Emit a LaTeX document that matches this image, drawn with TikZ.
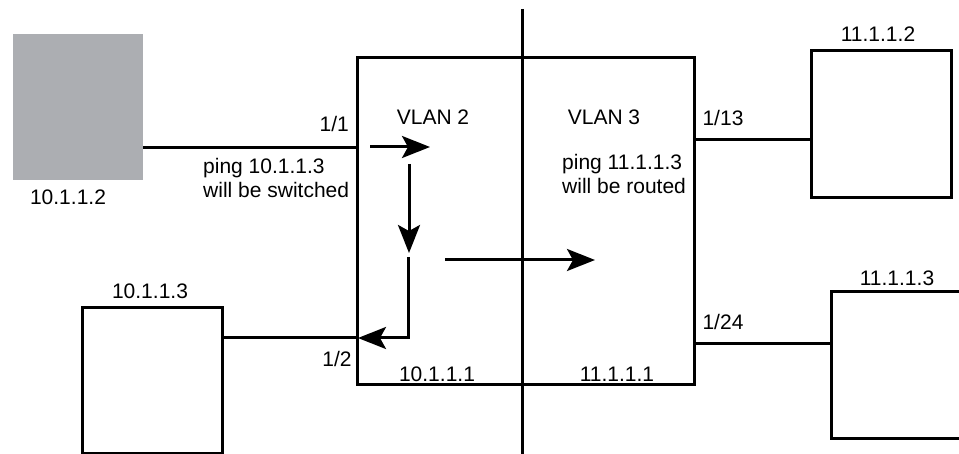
\documentclass[tikz,border=0pt]{standalone}
\usepackage{fontspec}
\setmainfont{Liberation Sans}
\usetikzlibrary{arrows.meta}
\definecolor{hostgray}{RGB}{172,174,178}
\tikzset{
  wire/.style={line width=3pt, draw=black},
  box/.style={draw=black, line width=3pt, fill=white, inner sep=0pt, rectangle},
  lbl/.style={inner sep=0pt, font=\fontsize{21}{24}\selectfont, text=black},
  flow/.style={line width=3pt, -{Stealth[length=28pt,width=22pt,inset=6pt]}},
}
\begin{document}
\begin{tikzpicture}[x=1pt,y=-1pt]
\useasboundingbox (0,0) rectangle (959,454);
% vertical divider
\coordinate (dtop) at (522,9);
\coordinate (dbot) at (522,460);
% hosts and switch
\node[fill=hostgray, inner sep=0pt, minimum width=130pt, minimum height=146pt] (h1) at (78,107) {};
\node[box, minimum width=337pt, minimum height=327pt] (sw) at (525.5,221.5) {};
\node[box, minimum width=140pt, minimum height=147pt] (h2) at (881,124.5) {};
\node[box, minimum width=140pt, minimum height=146pt] (h3) at (901,365) {};
\node[box, minimum width=140pt, minimum height=145pt] (h4) at (152,380.5) {};
\draw[wire] (dtop) -- (dbot);
% port coordinates
\coordinate (p11) at (357,148);
\coordinate (p12) at (357,338);
\coordinate (p113) at (694,140);
\coordinate (p124) at (694,344);
\draw[wire] (h1.east |- p11) -- (p11);
\draw[wire] (h4.east |- p12) -- (p12);
\draw[wire] (p113) -- (h2.west |- p113);
\draw[wire] (p124) -- (h3.west |- p124);
% flow arrows
\coordinate (a1s) at (370,147);
\coordinate (a1e) at (430,147);
\coordinate (a2s) at (409,164);
\coordinate (a2e) at (409,253);
\coordinate (a3s) at (408,257);
\coordinate (a3c) at (408,338);
\coordinate (a3e) at (358,338);
\coordinate (a4s) at (445,260);
\coordinate (a4e) at (595,260);
\draw[flow] (a1s) -- (a1e);
\draw[flow] (a2s) -- (a2e);
\draw[flow] (a3s) -- (a3c) -- (a3e);
\draw[flow] (a4s) -- (a4e);
% labels
\node[lbl] (t1) at (68,197) {10.1.1.2};
\node[lbl, anchor=east] (t2) at (349,124) {1/1};
\node[lbl, anchor=west, align=left] (t3) at (203,178) {ping 10.1.1.3\\will be switched};
\node[lbl] (t4) at (433,117) {VLAN 2};
\node[lbl] (t5) at (604,117) {VLAN 3};
\node[lbl, anchor=west, align=left] (t6) at (562,174) {ping 11.1.1.3\\will be routed};
\node[lbl] (t7) at (723,118) {1/13};
\node[lbl] (t8) at (723,322) {1/24};
\node[lbl] (t9) at (878,34) {11.1.1.2};
\node[lbl] (t10) at (897,278) {11.1.1.3};
\node[lbl] (t11) at (150,291) {10.1.1.3};
\node[lbl] (t12) at (337,359) {1/2};
\node[lbl] (t13) at (437,374) {10.1.1.1};
\node[lbl] (t14) at (617,374) {11.1.1.1};
\end{tikzpicture}
\end{document}
